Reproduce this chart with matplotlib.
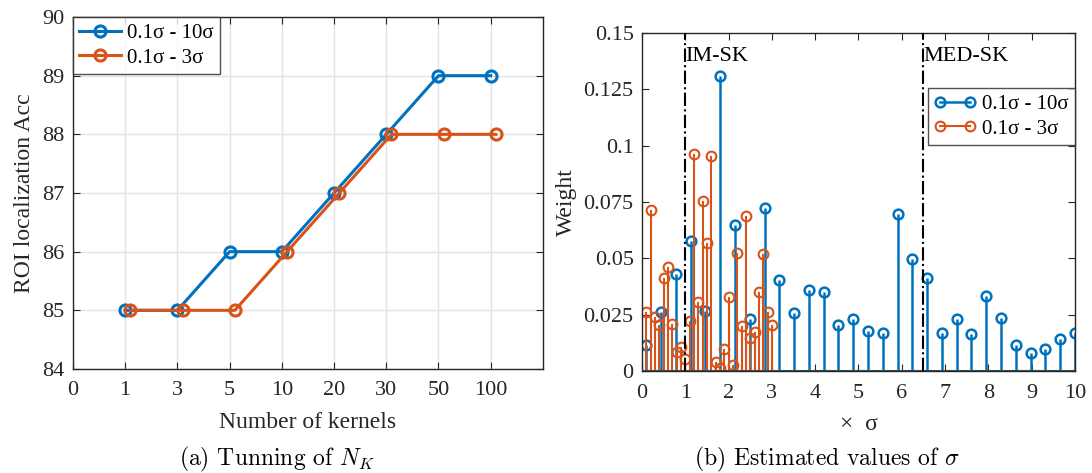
import matplotlib
matplotlib.use("Agg")
import matplotlib.pyplot as plt
from matplotlib.lines import Line2D

plt.rcParams['font.family'] = ['Liberation Serif', 'DejaVu Serif']
plt.rcParams['mathtext.fontset'] = 'cm'

# colours (MATLAB default order)
c_blue = '#0072BD'
c_orange = '#D95319'
axis_col = '#262626'

# (a) accuracy vs number of kernels
kernel_labels = ['0', '1', '3', '5', '10', '20', '30', '50', '100']
acc_wide = [85, 85, 86, 86, 87, 88, 89, 89]      # 0.1σ - 10σ
acc_narrow = [85, 85, 85, 86, 87, 88, 88, 88]    # 0.1σ - 3σ

# (b) estimated kernel weights
sigma_wide = [0.1, 0.441, 0.783, 1.124, 1.466, 1.807, 2.148, 2.490, 2.831, 3.172,
              3.514, 3.855, 4.197, 4.538, 4.879, 5.221, 5.562, 5.903, 6.245, 6.586,
              6.928, 7.269, 7.610, 7.952, 8.293, 8.634, 8.976, 9.317, 9.659, 10.0]
weight_wide = [0.0115, 0.0260, 0.0430, 0.0578, 0.0268, 0.1311, 0.0648, 0.0231, 0.0722, 0.0404,
               0.0259, 0.0359, 0.0351, 0.0203, 0.0231, 0.0179, 0.0170, 0.0695, 0.0496, 0.0411,
               0.0170, 0.0231, 0.0163, 0.0333, 0.0235, 0.0115, 0.0078, 0.0096, 0.0143, 0.0170]
sigma_narrow = [0.1, 0.2, 0.3, 0.4, 0.5, 0.6, 0.7, 0.8, 0.9, 1.0,
                1.1, 1.2, 1.3, 1.4, 1.5, 1.6, 1.7, 1.8, 1.9, 2.0,
                2.1, 2.2, 2.3, 2.4, 2.5, 2.6, 2.7, 2.8, 2.9, 3.0]
weight_narrow = [0.0263, 0.0714, 0.0241, 0.0204, 0.0411, 0.0463, 0.0207, 0.0086, 0.0105, 0.0052,
                 0.0222, 0.0963, 0.0305, 0.0756, 0.0569, 0.0954, 0.0041, 0.0012, 0.0096, 0.0327,
                 0.0027, 0.0522, 0.0201, 0.0689, 0.0148, 0.0172, 0.0349, 0.0519, 0.0260, 0.0204]
region_x = [1.0, 6.5]
region_names = ['IM-SK', 'MED-SK']

fs_tick = 16
fs_label = 17
fs_leg = 15
fs_cap = 17

fig = plt.figure(figsize=(10.92, 4.73), dpi=100)
ax1 = fig.add_axes([0.0668, 0.2199, 0.4304, 0.7441])
ax2 = fig.add_axes([0.5879, 0.2156, 0.3965, 0.7146])

for ax in (ax1, ax2):
    for sp in ax.spines.values():
        sp.set_color(axis_col)
        sp.set_linewidth(1.0)
    ax.tick_params(direction='in', top=True, right=True, length=5, width=0.8,
                   labelsize=fs_tick, colors=axis_col, labelcolor=axis_col, pad=6)
    ax.tick_params(axis='x', pad=9)

# ---- left panel ----
xpos = list(range(1, len(acc_wide) + 1))
ax1.grid(True, color='#e3e3e3', linewidth=1.0)
ax1.set_axisbelow(True)
ax1.plot(xpos, acc_wide, '-o', color=c_blue, lw=2.2, ms=8, mfc='none', mew=2.2,
         label='0.1σ - 10σ')
ax1.plot([x + 0.1 for x in xpos], acc_narrow, '-o', color=c_orange, lw=2.2, ms=8,
         mfc='none', mew=2.2, label='0.1σ - 3σ')
ax1.set_xlim(0, 9)
ax1.set_ylim(84, 90)
ax1.set_xticks(range(len(kernel_labels)))
ax1.set_xticklabels(kernel_labels)
ax1.set_yticks(range(84, 91))
ax1.set_xlabel('Number of kernels', fontsize=fs_label, color=axis_col, labelpad=8)
ax1.set_ylabel('ROI localization Acc', fontsize=fs_label, color=axis_col, labelpad=5)
leg1 = ax1.legend(loc='upper left', fontsize=fs_leg, frameon=True, fancybox=False,
                  borderaxespad=0, handlelength=2.0, handletextpad=0.3,
                  borderpad=0.3, labelspacing=0.25)
leg1.get_frame().set_edgecolor(axis_col)
leg1.get_frame().set_linewidth(1.0)

# ---- right panel ----
ml, sl, bl = ax2.stem(sigma_wide, weight_wide, linefmt='-', basefmt=' ')
plt.setp(sl, color=c_blue, linewidth=1.8)
plt.setp(ml, color=c_blue, markerfacecolor='none', markersize=7, markeredgewidth=1.8)
ml, sl, bl = ax2.stem(sigma_narrow, weight_narrow, linefmt='-', basefmt=' ')
plt.setp(sl, color=c_orange, linewidth=1.5)
plt.setp(ml, color=c_orange, markerfacecolor='none', markersize=7, markeredgewidth=1.5)
ax2.axhline(0, color='#444444', lw=1.5, zorder=4)

for xv, name in zip(region_x, region_names):
    ax2.plot([xv, xv], [0, 0.15], color='black', ls='-.', lw=1.5, zorder=5)
    ax2.text(xv, 0.1395, name, fontsize=fs_tick, ha='left', va='center', color='black')

ax2.set_xlim(0, 10)
ax2.set_ylim(0, 0.15)
ax2.set_xticks(range(11))
ax2.set_yticks([0, 0.025, 0.05, 0.075, 0.1, 0.125, 0.15])
ax2.set_yticklabels(['0', '0.025', '0.05', '0.075', '0.1', '0.125', '0.15'])
ax2.set_xlabel('×  σ', fontsize=fs_label, color=axis_col, labelpad=8)
ax2.set_ylabel('Weight', fontsize=fs_label, color=axis_col, labelpad=5)

h_wide = Line2D([], [], color=c_blue, lw=1.8, marker='o', ms=7, mfc='none',
                mew=1.8, markevery=[1])
h_narrow = Line2D([], [], color=c_orange, lw=1.5, marker='o', ms=7, mfc='none',
                  mew=1.5, markevery=[1])
leg2 = ax2.legend([h_wide, h_narrow], ['0.1σ - 10σ', '0.1σ - 3σ'], loc='upper right',
                  bbox_to_anchor=(1.0, 0.837), fontsize=fs_leg, frameon=True, fancybox=False,
                  numpoints=2, handlelength=2.0, handletextpad=0.3, borderpad=0.3,
                  labelspacing=0.25, borderaxespad=0)
leg2.get_frame().set_edgecolor(axis_col)
leg2.get_frame().set_linewidth(1.0)

# sub-captions
fig.text(277 / 1092, 1 - 459 / 473, r'(a) Tunning of $N_K$', family='cmr10',
         fontsize=fs_cap, ha='center', va='center')
fig.text(827 / 1092, 1 - 459 / 473, r'(b) Estimated values of $\sigma$', family='cmr10',
         fontsize=fs_cap, ha='center', va='center')

fig.savefig('out.png', dpi=100)
